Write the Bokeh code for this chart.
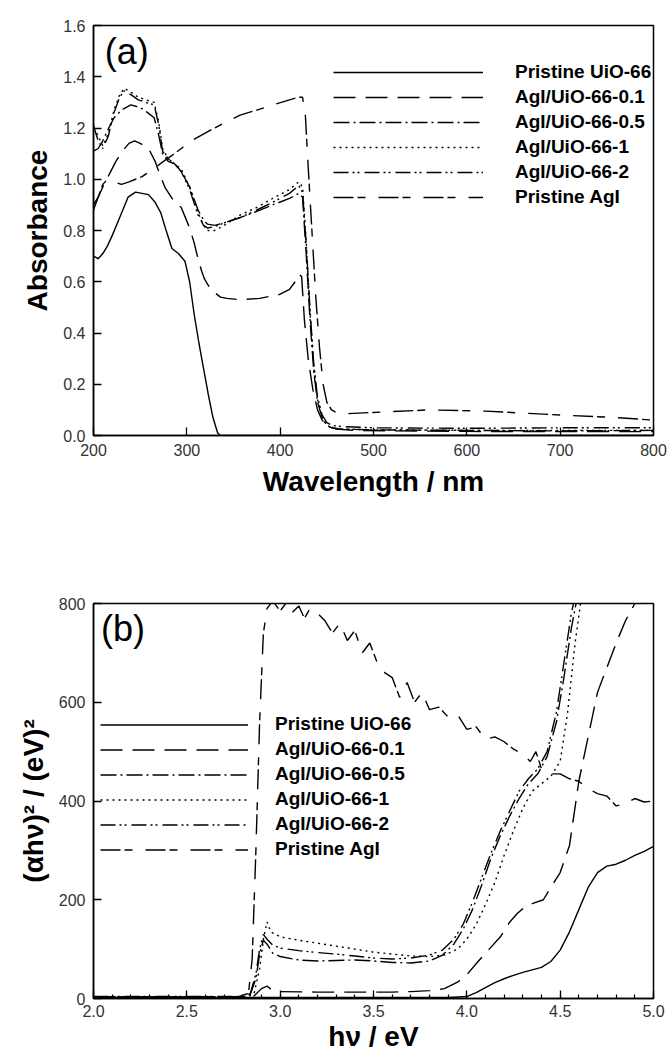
from bokeh.plotting import figure
from bokeh.models import (Legend, LegendItem, Label, Range1d, SingleIntervalTicker,
                          NumeralTickFormatter)
from bokeh.layouts import column
from bokeh.embed import file_html
from bokeh.resources import INLINE

FONT = "Liberation Sans"

# ---------------- panel (a): absorbance spectra ----------------
labels = ["Pristine UiO-66", "AgI/UiO-66-0.1", "AgI/UiO-66-0.5",
          "AgI/UiO-66-1", "AgI/UiO-66-2", "Pristine AgI"]

uio_wl = [200, 205, 210, 215, 220, 228, 237, 245, 252, 259, 266, 272, 277, 284, 291, 298,
          303, 308, 313, 318, 323, 328, 333, 336, 340, 400, 500, 600, 700, 800]
uio_abs = [0.70, 0.69, 0.71, 0.74, 0.78, 0.85, 0.93, 0.95, 0.945, 0.94, 0.91, 0.87, 0.81,
           0.73, 0.71, 0.68, 0.60, 0.47, 0.36, 0.26, 0.16, 0.07, 0.01, 0.0, 0.0, 0.0,
           0.0, 0.0, 0.0, 0.0]

a01_wl = [200, 205, 210, 217, 224, 231, 238, 244, 250, 259, 266, 272, 277, 287, 294, 303,
          308, 312, 316, 319, 324, 329, 336, 343, 357, 378, 399, 410, 416, 420, 423, 426,
          430, 435, 440, 445, 450, 460, 480, 520, 600, 700, 800]
a01_abs = [0.90, 0.93, 0.97, 1.02, 1.07, 1.11, 1.14, 1.15, 1.14, 1.12, 1.07, 1.01, 0.965,
           0.91, 0.89, 0.81, 0.75, 0.69, 0.64, 0.61, 0.58, 0.56, 0.54, 0.535, 0.53, 0.535,
           0.55, 0.57, 0.60, 0.63, 0.62, 0.45, 0.30, 0.18, 0.10, 0.06, 0.04, 0.025, 0.02,
           0.018, 0.016, 0.015, 0.015]

a05_wl = [200, 205, 210, 215, 222, 230, 240, 250, 258, 265, 270, 274, 280, 287, 294, 303,
          312, 318, 322, 330, 340, 357, 375, 392, 410, 420, 424, 428, 432, 436, 440, 445,
          450, 455, 465, 500, 600, 700, 800]
a05_abs = [1.11, 1.12, 1.15, 1.19, 1.24, 1.27, 1.29, 1.28, 1.26, 1.24, 1.17, 1.10, 1.07,
           1.06, 1.03, 0.97, 0.88, 0.84, 0.825, 0.82, 0.83, 0.85, 0.875, 0.90, 0.925, 0.945,
           0.93, 0.70, 0.45, 0.25, 0.13, 0.07, 0.04, 0.03, 0.025, 0.022, 0.02, 0.018, 0.02]

a1_wl = [200, 205, 210, 216, 222, 228, 233, 240, 248, 256, 265, 270, 274, 280, 287, 294,
         303, 312, 318, 322, 330, 340, 357, 375, 392, 410, 420, 424, 428, 432, 436, 440,
         445, 450, 455, 465, 500, 600, 700, 800]
a1_abs = [1.20, 1.17, 1.13, 1.18, 1.27, 1.33, 1.355, 1.34, 1.32, 1.31, 1.30, 1.22, 1.12,
          1.08, 1.06, 1.04, 0.97, 0.87, 0.82, 0.80, 0.80, 0.82, 0.86, 0.89, 0.925, 0.96,
          0.99, 0.97, 0.75, 0.48, 0.27, 0.14, 0.07, 0.04, 0.03, 0.025, 0.022, 0.02, 0.02, 0.02]

a2_wl = [200, 205, 210, 216, 222, 228, 233, 240, 248, 256, 265, 270, 274, 280, 287, 294,
         303, 312, 318, 322, 330, 340, 357, 375, 392, 410, 420, 424, 428, 432, 436, 440,
         445, 450, 455, 465, 500, 600, 700, 800]
a2_abs = [1.21, 1.15, 1.12, 1.17, 1.26, 1.32, 1.345, 1.33, 1.31, 1.30, 1.29, 1.21, 1.11,
          1.08, 1.06, 1.03, 0.96, 0.86, 0.82, 0.81, 0.815, 0.83, 0.85, 0.88, 0.91, 0.945,
          0.975, 0.95, 0.74, 0.49, 0.28, 0.15, 0.08, 0.05, 0.04, 0.035, 0.03, 0.028, 0.03, 0.03]

agi_wl = [200, 205, 210, 215, 222, 230, 238, 245, 252, 260, 268, 275, 283, 294, 305, 322,
          340, 357, 375, 392, 410, 420, 424, 427, 430, 434, 438, 442, 446, 450, 455, 460,
          470, 500, 560, 620, 700, 760, 800]
agi_abs = [0.88, 0.93, 0.98, 1.00, 0.99, 0.98, 0.99, 1.00, 1.01, 1.03, 1.05, 1.07, 1.09,
           1.12, 1.15, 1.185, 1.22, 1.25, 1.27, 1.29, 1.31, 1.32, 1.32, 1.25, 1.05, 0.80,
           0.55, 0.35, 0.20, 0.13, 0.10, 0.09, 0.085, 0.09, 0.10, 0.095, 0.08, 0.07, 0.06]

# ---------------- panel (b): Tauc plot ----------------
uio_hv = [2.0, 2.5, 3.0, 3.5, 3.9, 4.0, 4.05, 4.1, 4.15, 4.2, 4.25, 4.3, 4.35, 4.4, 4.45,
          4.5, 4.55, 4.6, 4.65, 4.7, 4.75, 4.8, 4.85, 4.9, 4.95, 5.0]
uio_t = [2, 2, 2, 2, 2, 4, 12, 22, 32, 40, 47, 53, 58, 63, 75, 98, 135, 180, 225, 255,
         268, 272, 280, 290, 298, 308]

b01_hv = [2.0, 2.5, 2.8, 2.86, 2.9, 2.93, 2.96, 3.0, 3.2, 3.4, 3.6, 3.7, 3.8, 3.88, 3.95,
          4.0, 4.06, 4.12, 4.18, 4.23, 4.27, 4.31, 4.35, 4.41, 4.45, 4.5, 4.55, 4.6, 4.65,
          4.7, 4.75, 4.8, 4.85, 4.9, 4.95, 5.0]
b01_t = [3, 3, 3, 5, 20, 25, 16, 14, 13, 13, 13, 14, 16, 20, 33, 48, 75, 100, 125, 155,
         172, 185, 192, 200, 225, 255, 310, 440, 530, 620, 670, 720, 765, 800, 830, 860]

b05_hv = [2.0, 2.5, 2.8, 2.84, 2.87, 2.89, 2.91, 2.93, 2.96, 3.0, 3.1, 3.2, 3.3, 3.4, 3.5,
          3.6, 3.7, 3.8, 3.87, 3.93, 3.98, 4.03, 4.08, 4.13, 4.18, 4.23, 4.28, 4.33, 4.38,
          4.43, 4.48, 4.52, 4.56, 4.6]
b05_t = [3, 3, 3, 8, 40, 90, 118, 110, 92, 85, 78, 76, 77, 78, 76, 73, 72, 76, 88, 110,
         140, 180, 230, 285, 330, 370, 405, 435, 455, 490, 560, 650, 750, 830]

b1_hv = [2.0, 2.5, 2.82, 2.86, 2.89, 2.91, 2.93, 2.95, 3.0, 3.1, 3.2, 3.3, 3.4, 3.5, 3.6,
         3.7, 3.8, 3.88, 3.95, 4.0, 4.05, 4.1, 4.15, 4.2, 4.25, 4.3, 4.35, 4.4, 4.45, 4.5,
         4.54, 4.58, 4.62]
b1_t = [2, 2, 2, 10, 60, 120, 155, 135, 125, 118, 112, 106, 100, 94, 90, 86, 85, 88, 100,
        120, 150, 190, 235, 290, 340, 385, 420, 435, 450, 480, 580, 720, 830]

b2_hv = [2.0, 2.5, 2.8, 2.84, 2.87, 2.89, 2.91, 2.93, 2.96, 3.0, 3.1, 3.2, 3.3, 3.4, 3.5,
         3.6, 3.7, 3.8, 3.87, 3.93, 3.98, 4.03, 4.08, 4.13, 4.18, 4.23, 4.28, 4.33, 4.38,
         4.43, 4.48, 4.52, 4.56, 4.6]
b2_t = [4, 4, 4, 10, 50, 100, 130, 120, 108, 102, 97, 93, 90, 86, 82, 80, 82, 88, 98, 120,
        150, 195, 245, 295, 340, 380, 420, 445, 465, 500, 580, 680, 780, 850]

bagi_hv = [2.0, 2.5, 2.78, 2.81, 2.83, 2.85, 2.87, 2.89, 2.91, 2.93, 2.96, 3.0, 3.03, 3.06,
           3.1, 3.13, 3.16, 3.2, 3.24, 3.28, 3.32, 3.36, 3.4, 3.44, 3.48, 3.52, 3.56, 3.6,
           3.64, 3.68, 3.72, 3.76, 3.8, 3.85, 3.9, 3.95, 4.0, 4.05, 4.1, 4.15, 4.2, 4.25,
           4.3, 4.34, 4.37, 4.4, 4.45, 4.5, 4.55, 4.6, 4.65, 4.7, 4.75, 4.8, 4.85, 4.9,
           4.95, 5.0]
bagi_t = [3, 3, 4, 8, 10, 80, 300, 560, 740, 790, 805, 785, 800, 780, 795, 770, 790, 780,
          765, 740, 760, 725, 745, 700, 720, 680, 660, 650, 610, 640, 600, 620, 585, 590,
          570, 575, 545, 550, 525, 530, 520, 505, 495, 480, 500, 465, 455, 455, 445, 440,
          425, 415, 410, 390, 395, 405, 398, 400]

dashes = ["solid", "22 10", "16 4 2 4", "2 4", "15 4 2 3 2 5", "20 4 8 13"]

a_x = [uio_wl, a01_wl, a05_wl, a1_wl, a2_wl, agi_wl]
a_y = [uio_abs, a01_abs, a05_abs, a1_abs, a2_abs, agi_abs]
b_x = [uio_hv, b01_hv, b05_hv, b1_hv, b2_hv, bagi_hv]
b_y = [uio_t, b01_t, b05_t, b1_t, b2_t, bagi_t]


def style(p):
    p.background_fill_color = "white"
    p.border_fill_color = "white"
    p.grid.visible = False
    p.outline_line_color = "black"
    p.outline_line_width = 1.5
    for ax in (p.xaxis, p.yaxis):
        ax.axis_line_width = 1.5
        ax.major_tick_in = 8
        ax.major_tick_out = 0
        ax.minor_tick_in = 0
        ax.minor_tick_out = 0
        ax.major_tick_line_width = 1.3
        ax.major_label_text_font = FONT
        ax.major_label_text_font_size = "16px"
        ax.major_label_text_color = "#333333"
        ax.major_label_standoff = 8
        ax.axis_label_text_font = FONT
        ax.axis_label_text_font_style = "bold"
        ax.axis_label_text_font_size = "28px"
        ax.axis_label_text_color = "black"
        ax.axis_label_standoff = 7


def legend(p, renderers, vx, vy, gw, gh, standoff):
    items = [LegendItem(label=l, renderers=[r]) for l, r in zip(labels, renderers)]
    lg = Legend(items=items, location=(vx, vy), glyph_width=gw, glyph_height=gh,
                label_height=gh, spacing=3, label_standoff=standoff, padding=0, margin=0,
                border_line_color=None, background_fill_alpha=0,
                label_text_font=FONT, label_text_font_style="bold",
                label_text_font_size="19px", label_text_color="black")
    p.add_layout(lg)


# ---- figure (a)
pa = figure(width=670, height=520, x_range=Range1d(200, 800), y_range=Range1d(0, 1.6),
            output_backend="svg", toolbar_location=None,
            min_border_left=83, min_border_right=17, min_border_top=25,
            min_border_bottom=85)
style(pa)
pa.xaxis.ticker = SingleIntervalTicker(interval=100, num_minor_ticks=0)
pa.yaxis.ticker = SingleIntervalTicker(interval=0.2, num_minor_ticks=0)
pa.yaxis.formatter = NumeralTickFormatter(format="0.0")
pa.xaxis.axis_label = "Wavelength / nm"
pa.yaxis.axis_label = "Absorbance"

ra = []
for xs, ys, d in zip(a_x, a_y, dashes):
    ra.append(pa.line(xs, ys, line_color="black", line_width=1.4, line_dash=d))
legend(pa, ra, 240, 227, 150, 22, 32)
pa.add_layout(Label(x=212, y=1.50, text="(a)", text_font=FONT, text_font_size="36px",
                    text_baseline="middle", text_align="left", text_color="black"))

# ---- figure (b)
pb = figure(width=670, height=544, x_range=Range1d(2.0, 5.0), y_range=Range1d(0, 800),
            output_backend="svg", toolbar_location=None,
            min_border_left=93, min_border_right=17, min_border_top=83,
            min_border_bottom=66)
style(pb)
pb.xaxis.ticker = SingleIntervalTicker(interval=0.5, num_minor_ticks=5)
pb.xaxis.minor_tick_in = 4
pb.xaxis.minor_tick_line_width = 1.2
pb.xaxis.formatter = NumeralTickFormatter(format="0.0")
pb.yaxis.ticker = SingleIntervalTicker(interval=200, num_minor_ticks=0)
pb.xaxis.axis_label = "hν / eV"
pb.xaxis.axis_label_standoff = 1
pb.xaxis.major_label_standoff = 6
pb.yaxis.axis_label = "(αhν)² / (eV)²"

rb = []
for xs, ys, d in zip(b_x, b_y, dashes):
    rb.append(pb.line(xs, ys, line_color="black", line_width=1.4, line_dash=d))
legend(pb, rb, 7, 138, 148, 21, 27)
pb.add_layout(Label(x=2.04, y=750, text="(b)", text_font=FONT, text_font_size="36px",
                    text_baseline="middle", text_align="left", text_color="black"))

layout = column(pa, pb)
open("out.html", "w").write(file_html(layout, INLINE))
